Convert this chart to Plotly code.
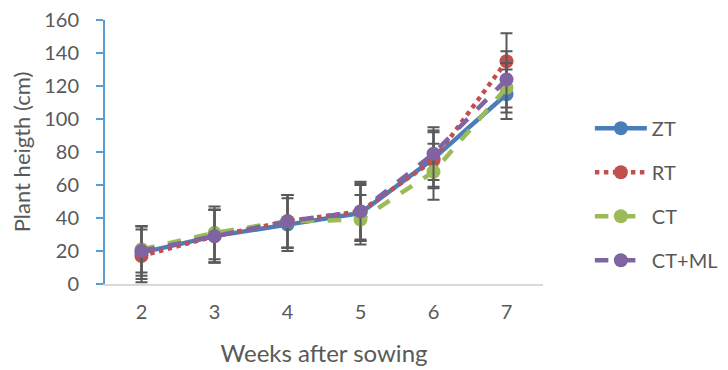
import plotly.graph_objects as go

weeks = ["2", "3", "4", "5", "6", "7"]
zt = [19, 29, 36, 43, 76, 115]
zt_err = [16, 16, 16, 17, 17, 15]
rt = [17, 29, 38, 44, 75, 135]
rt_err = [16, 16, 16, 17, 17, 17]
ct = [21, 31, 38, 39, 68, 119]
ct_err = [14, 16, 16, 15, 17, 15]
ctml = [20, 29, 38, 44, 79, 124]
ctml_err = [15, 16, 16, 18, 16, 17]

series = [
    ("ZT", zt, zt_err, "#4A7EBB", "solid"),
    ("RT", rt, rt_err, "#C0504D", "dot"),
    ("CT", ct, ct_err, "#9BBB59", "dash"),
    ("CT+ML", ctml, ctml_err, "#8064A2", "dash"),
]

fig = go.Figure()
for name, vals, err, color, dash in series:
    fig.add_trace(go.Scatter(
        x=weeks, y=vals, name=name, mode="lines+markers",
        legendgroup=name,
        line=dict(color=color, width=4.5, dash=dash),
        marker=dict(color=color, size=14, symbol="circle"),
        error_y=dict(type="data", array=err, visible=True,
                     color="#595959", thickness=2, width=6),
    ))

font_family = "Lato, 'Open Sans', sans-serif"
fig.update_layout(
    width=728, height=370,
    margin=dict(l=97, r=193, t=12, b=94, autoexpand=False),
    paper_bgcolor="white", plot_bgcolor="white",
    font=dict(family=font_family, size=20, color="#595959"),
    showlegend=True,
    legend=dict(x=1.107, y=0.34, xanchor="left", yanchor="middle",
                font=dict(size=20, color="#595959"),
                itemwidth=52,
                tracegroupgap=15, bgcolor="rgba(0,0,0,0)"),
    xaxis=dict(
        type="category", range=[-0.5, 5.5], automargin=False,
        showline=True, linecolor="#D9D9D9", linewidth=1.5,
        showgrid=False, ticks="", zeroline=False,
        ticklabelstandoff=9,
        tickfont=dict(size=20, color="#595959"),
        title=dict(text="Weeks after sowing", font=dict(size=24, color="#595959"), standoff=23),
    ),
    yaxis=dict(
        range=[0, 160], dtick=20, automargin=False,
        showline=True, linecolor="#5B9BD5", linewidth=2,
        ticks="outside", tickcolor="#5B9BD5", ticklen=7, tickwidth=1.5,
        ticklabelstandoff=13, ticklabeloverflow="allow",
        showgrid=False, zeroline=False,
        tickfont=dict(size=20, color="#595959"),
        title=dict(text="Plant heigth (cm)", font=dict(size=22, color="#595959"), standoff=10),
    ),
)

fig.write_html("out.html")
